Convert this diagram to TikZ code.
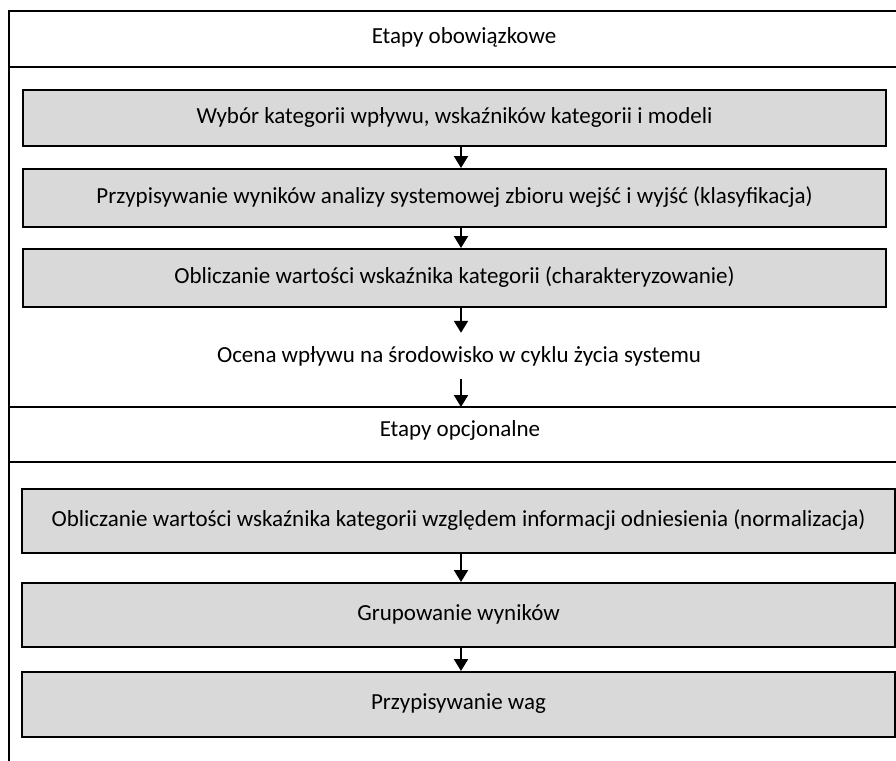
\documentclass[tikz,border=0pt]{standalone}
\usepackage{fontspec}
\setmainfont{Carlito}
\usetikzlibrary{arrows.meta}
\begin{document}
\begin{tikzpicture}[x=1pt,y=-1pt,
  txt/.style={font=\fontsize{23}{27}\selectfont, text=black},
  stepbox/.style={txt, draw=black, line width=2pt, fill={rgb,255:red,217;green,217;blue,217},
     text height=15pt, text depth=5pt, inner sep=0pt},
  frameline/.style={line width=1.5pt, black},
  arr/.style={line width=2pt, -{Triangle[width=14pt,length=12pt]}}]
\useasboundingbox (0,0) rectangle (896,760);
\fill[white] (0,0) rectangle (896,760);
% frame
\coordinate (ftl) at (9,11);
\coordinate (ftr) at (897,11);
\coordinate (fbl) at (9,761);
\coordinate (l1a) at (9,67);
\coordinate (l1b) at (897,67);
\coordinate (l2a) at (9,407);
\coordinate (l2b) at (897,407);
\coordinate (l3a) at (9,462);
\coordinate (l3b) at (897,462);
\draw[frameline] (ftr) -- (ftl) -- (fbl);
\draw[frameline] (l1a) -- (l1b);
\draw[frameline] (l2a) -- (l2b);
\draw[frameline] (l3a) -- (l3b);
\coordinate (ax) at (461,0);
\coordinate (l2) at (461,407);
% headers
\node[txt, anchor=base] (h1) at (464,44) {Etapy obowiązkowe};
\node[txt, anchor=base] (h2) at (460,436) {Etapy opcjonalne};
% mandatory boxes
\node[stepbox, minimum width=863pt, minimum height=56pt] (b1) at (454.5,118) {Wybór kategorii wpływu, wskaźników kategorii i modeli};
\node[stepbox, minimum width=863pt, minimum height=58pt] (b2) at (454.5,198) {Przypisywanie wyników analizy systemowej zbioru wejść i wyjść (klasyfikacja)};
\node[stepbox, minimum width=863pt, minimum height=58pt] (b3) at (454.5,278) {Obliczanie wartości wskaźnika kategorii (charakteryzowanie)};
\node[txt, text height=17pt, text depth=5pt, inner xsep=0pt, inner ysep=12pt, anchor=base] (ocena) at (459,362) {Ocena wpływu na środowisko w cyklu życia systemu};
% optional boxes
\node[stepbox, minimum width=873pt, minimum height=64pt] (b4) at (458.5,521) {Obliczanie wartości wskaźnika kategorii względem informacji odniesienia (normalizacja)};
\node[stepbox, minimum width=873pt, minimum height=64pt] (b5) at (458.5,615) {Grupowanie wyników};
\node[stepbox, minimum width=873pt, minimum height=65pt] (b6) at (458.5,704.5) {Przypisywanie wag};
% arrows
\draw[arr] (b1.south -| ax) -- (b2.north -| ax);
\draw[arr] (b2.south -| ax) -- (b3.north -| ax);
\draw[arr] (b3.south -| ax) -- (ocena.north -| ax);
\draw[arr] (ocena.south -| ax) -- (l2);
\draw[arr] (b4.south -| ax) -- (b5.north -| ax);
\draw[arr] (b5.south -| ax) -- (b6.north -| ax);
\end{tikzpicture}
\end{document}
